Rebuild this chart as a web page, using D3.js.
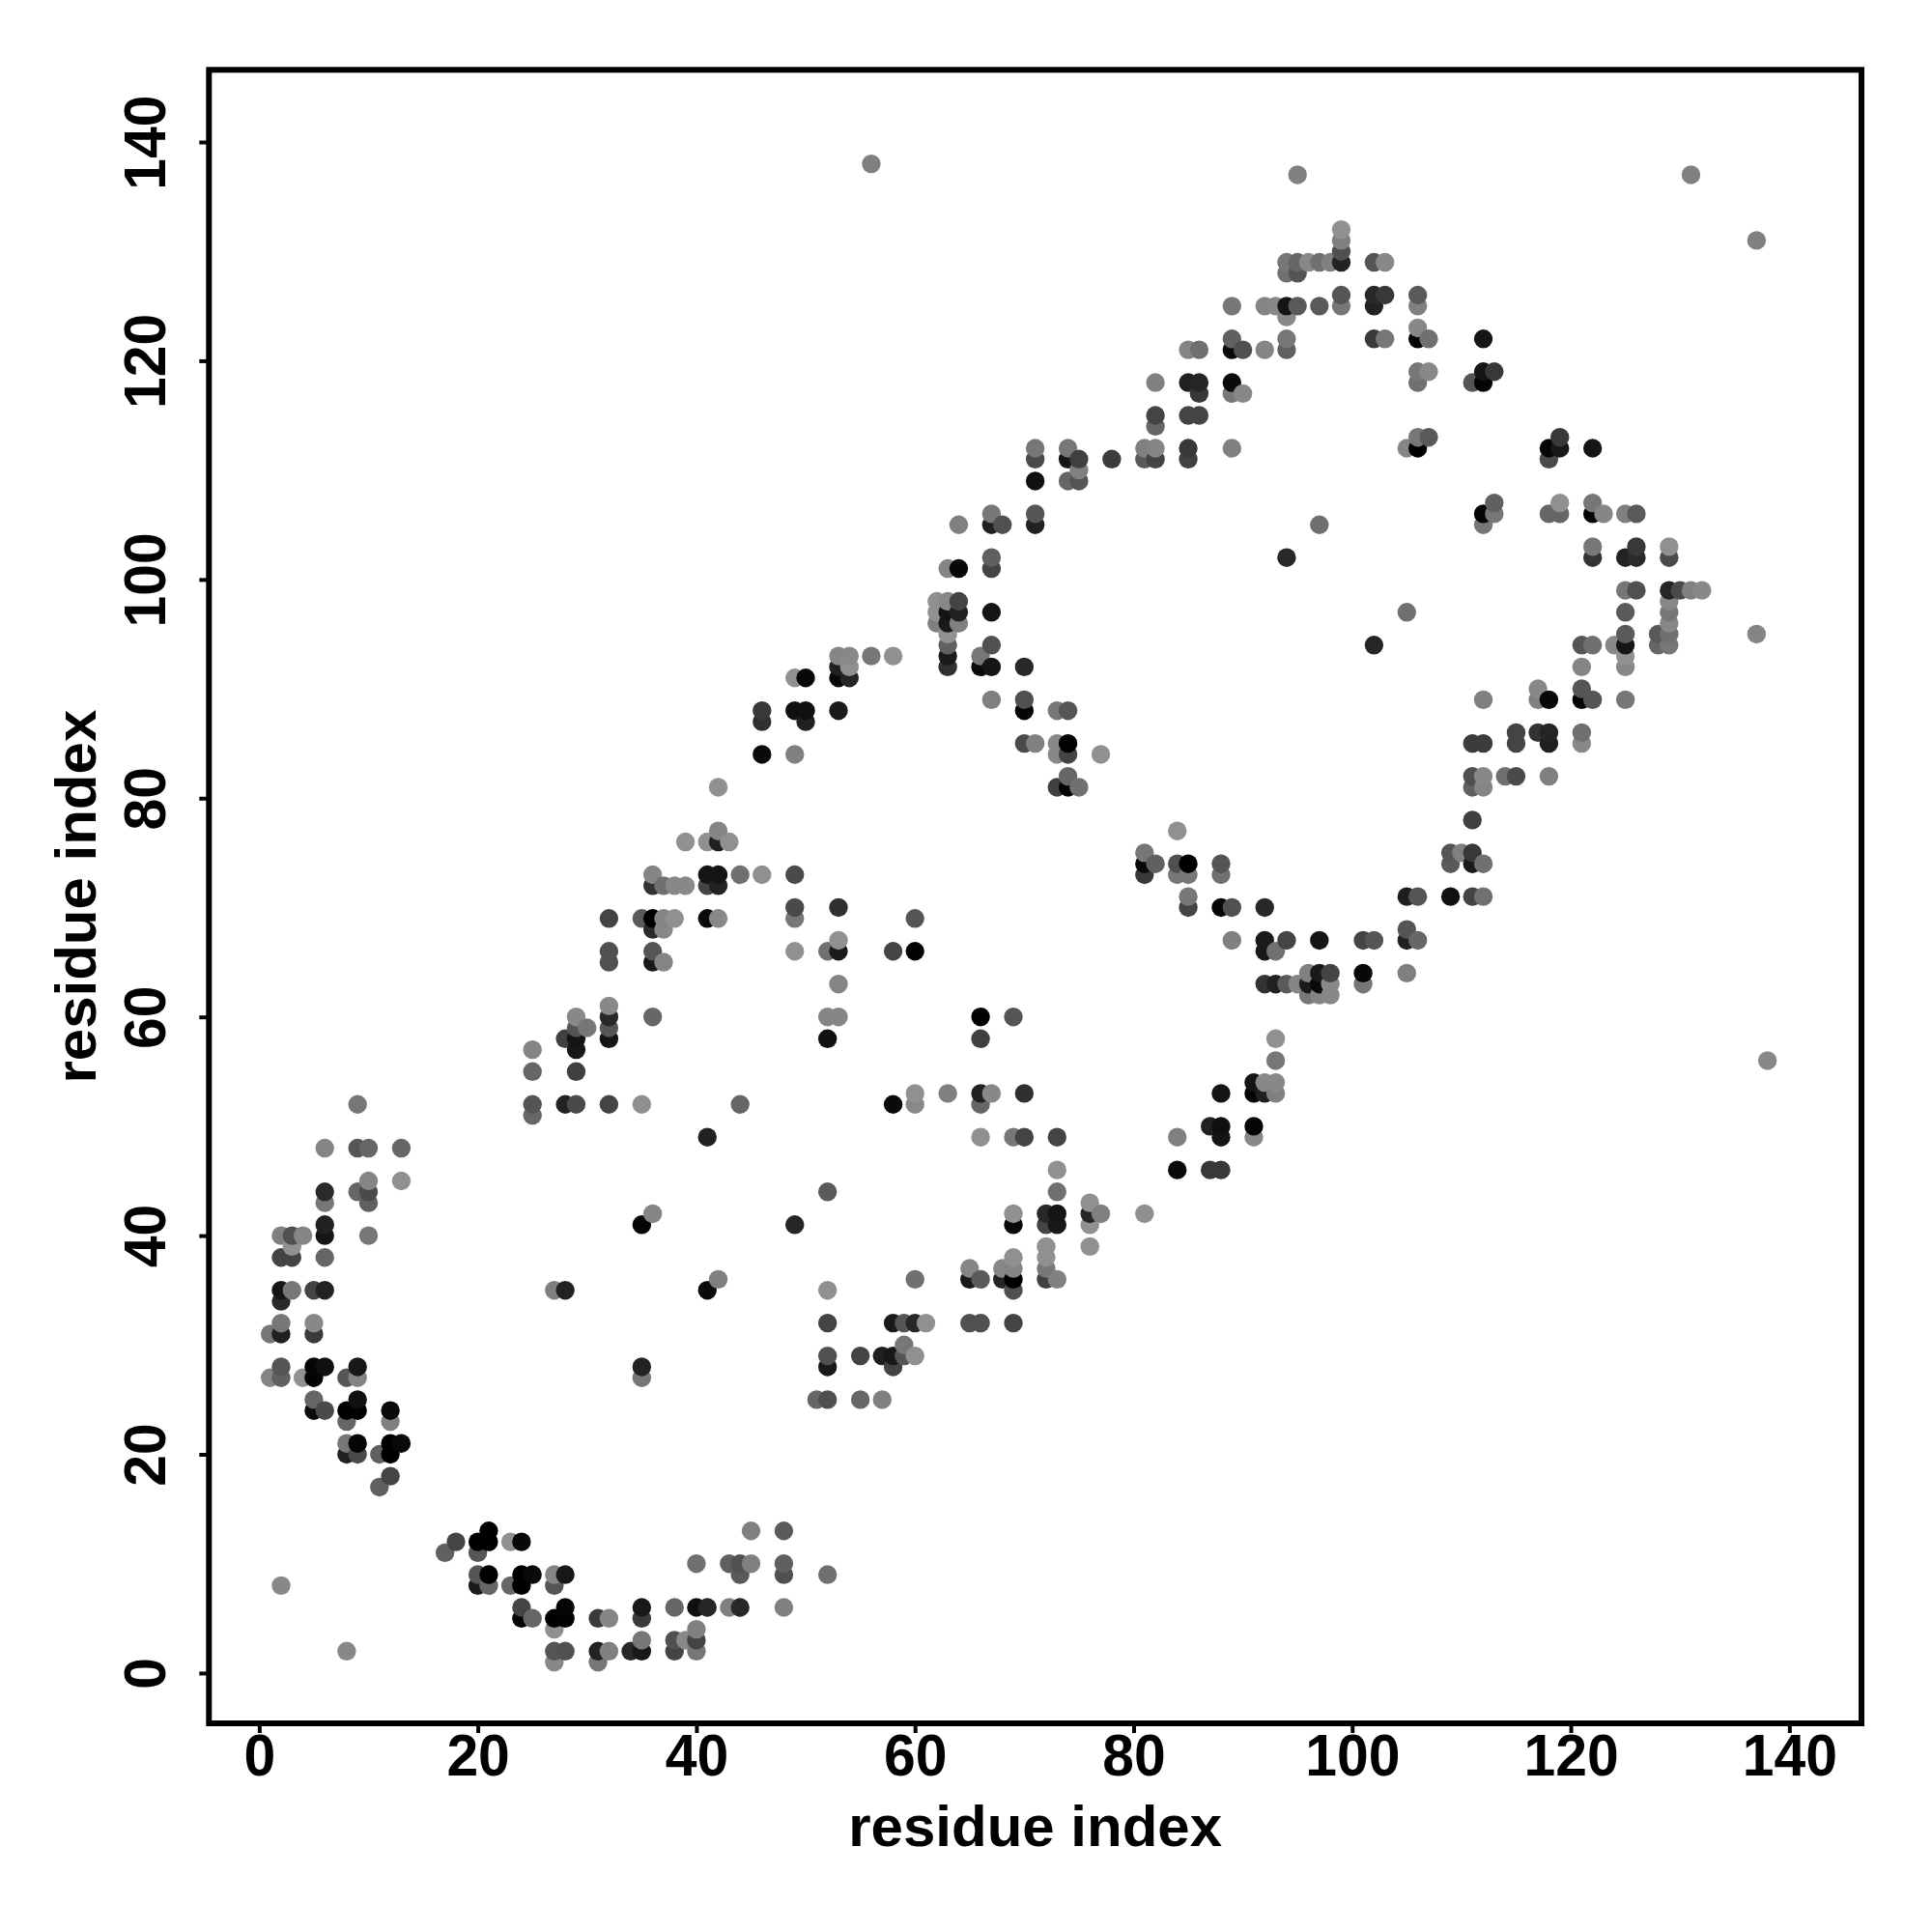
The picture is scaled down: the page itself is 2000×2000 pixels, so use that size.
<!DOCTYPE html>
<html><head><meta charset="utf-8">
<script src="https://cdn.jsdelivr.net/npm/d3@7"></script>
<style>html,body{margin:0;padding:0;background:#fff}svg{display:block}</style>
</head><body><svg id="c" width="2000" height="2000"></svg>
<script>
// Each contact: residue i, residue j, grey level (0 = black)
const tickValues = [0,20,40,60,80,100,120,140];
const axisTitle = "residue index";

const lowerLeftContacts = [
[9,52,0x77],[6,48,0x85],[9,48,0x55],[10,48,0x66],[13,48,0x66],[10,45,0x85],[13,45,0x90],[6,44,0x2a],[9,44,0x66],[10,44,0x4a],[6,43,0x77],[10,43,0x60],[6,41,0x22],[2,40,0x80],[3,40,0x50],[4,40,0x85],[6,40,0x15],[10,40,0x77],[3,39,0x90],[2,38,0x44],[3,38,0x44],[6,38,0x66],[2,35,0x15],[3,35,0x77],[5,35,0x44],[6,35,0x22],[2,34,0x2a],[2,32,0x77],[5,32,0x88],[1,31,0x77],[2,31,0x20],[5,31,0x3a],[2,28,0x55],[5,28,0x05],[6,28,0x10],[9,28,0x18],[1,27,0x85],[2,27,0x60],[4,27,0x90],[5,27,0x02],[8,27,0x55],[9,27,0x85],[5,25,0x66],[9,25,0x10],[5,24,0x0a],[6,24,0x4a],[8,24,0x00],[9,24,0x02],[12,24,0x0a],[8,23,0x66],[12,23,0x80],[8,21,0x77],[9,21,0x05],[12,21,0x00],[13,21,0x0a],[8,20,0x22],[9,20,0x4a],[11,20,0x60],[12,20,0x00],[12,18,0x44],[11,17,0x60],[2,8,0x88],[8,2,0x88]
];
const bottomArcContacts = [
[21,13,0x00],[18,12,0x44],[20,12,0x00],[21,12,0x00],[23,12,0x90],[24,12,0x08],[17,11,0x60],[20,11,0x55],[20,9,0x55],[21,9,0x02],[24,9,0x00],[25,9,0x0a],[27,9,0x85],[28,9,0x18],[20,8,0x1a],[21,8,0x66],[23,8,0x66],[24,8,0x00],[27,8,0x55],[24,6,0x44],[28,6,0x05],[24,5,0x05],[25,5,0x66],[27,5,0x00],[28,5,0x02],[31,5,0x3a],[32,5,0x85],[27,4,0x90],[27,2,0x55],[28,2,0x50],[31,2,0x22],[32,2,0x80],[27,1,0x88],[31,1,0x77],
[45,13,0x80],[48,13,0x5a],[40,10,0x70],[43,10,0x60],[44,10,0x50],[45,10,0x80],[48,10,0x60],[44,9,0x5a],[48,9,0x50],[52,9,0x70],[35,6,0x18],[38,6,0x66],[40,6,0x10],[41,6,0x25],[43,6,0x80],[44,6,0x28],[48,6,0x80],[35,5,0x3a],[40,4,0x80],[35,3,0x77],[38,3,0x50],[39,3,0x88],[40,3,0x44],[34,2,0x28],[35,2,0x18],[38,2,0x44],[40,2,0x77]
];
const middleStrandContacts = [
[46,84,0x0a],[49,84,0x80],[42,81,0x90],[42,77,0x85],[39,76,0x90],[41,76,0x90],[42,76,0x20],[43,76,0x90],[36,73,0x85],[41,73,0x15],[42,73,0x15],[44,73,0x70],[46,73,0x90],[49,73,0x4a],[36,72,0x33],[37,72,0x70],[38,72,0x88],[39,72,0x88],[41,72,0x44],[42,72,0x22],[49,70,0x4a],[53,70,0x30],[32,69,0x44],[35,69,0x5a],[36,69,0x00],[37,69,0x85],[38,69,0x90],[41,69,0x0a],[42,69,0x88],[49,69,0x77],[60,69,0x55],[36,68,0x2a],[37,68,0x88],[53,67,0x90],[32,66,0x50],[36,66,0x55],[49,66,0x90],[52,66,0x70],[53,66,0x1a],[58,66,0x44],[60,66,0x02],[32,65,0x50],[36,65,0x1a],[37,65,0x85],[53,63,0x85],[32,61,0x88],[29,60,0x88],[32,60,0x28],[36,60,0x66],[52,60,0x85],[53,60,0x85],[66,60,0x00],[69,60,0x55],[29,59,0x55],[30,59,0x77],[32,59,0x55],[28,58,0x40],[29,58,0x15],[32,58,0x15],[52,58,0x10],[66,58,0x40],[25,57,0x85],[29,57,0x18],[25,55,0x66],[29,55,0x40],[60,53,0x90],[63,53,0x80],[66,53,0x22],[67,53,0x88],[70,53,0x30],[25,52,0x55],[28,52,0x22],[29,52,0x4a],[32,52,0x44],[35,52,0x90],[44,52,0x66],[58,52,0x0a],[60,52,0x88],[66,52,0x66],[25,51,0x66],[41,49,0x22],[52,44,0x5a],[36,42,0x85],[35,41,0x05],[49,41,0x25],[42,36,0x80],[27,35,0x80],[28,35,0x22],[41,35,0x0a],[35,28,0x22],[35,27,0x77]
];
const lowerBandContacts = [
[93,58,0x90],[93,56,0x77],[91,54,0x15],[92,54,0x88],[93,54,0x88],[88,53,0x15],[91,53,0x05],[92,53,0x20],[93,53,0x80],[87,50,0x20],[88,50,0x10],[91,50,0x05],[66,49,0x90],[69,49,0x77],[70,49,0x44],[73,49,0x44],[84,49,0x80],[88,49,0x15],[91,49,0x88],[73,46,0x90],[84,46,0x0a],[87,46,0x38],[88,46,0x38],[73,44,0x70],[76,43,0x90],[69,42,0x90],[72,42,0x28],[73,42,0x15],[76,42,0x25],[77,42,0x80],[81,42,0x90],[69,41,0x0a],[72,41,0x44],[73,41,0x18],[76,41,0x90],[72,39,0x90],[76,39,0x90],[69,38,0x90],[72,38,0x90],[65,37,0x85],[68,37,0x88],[69,37,0x85],[72,37,0x77],[60,36,0x70],[65,36,0x1a],[66,36,0x5a],[68,36,0x25],[69,36,0x00],[72,36,0x40],[73,36,0x80],[52,35,0x90],[69,35,0x50],[52,32,0x44],[58,32,0x1a],[59,32,0x55],[60,32,0x28],[61,32,0x90],[65,32,0x50],[66,32,0x50],[69,32,0x44],[59,30,0x77],[52,29,0x50],[55,29,0x44],[57,29,0x1e],[58,29,0x18],[59,29,0x55],[60,29,0x90],[52,28,0x1a],[58,28,0x44],[51,25,0x66],[52,25,0x50],[55,25,0x66],[57,25,0x80]
];
const upperBandContacts = [
[71,112,0x77],[74,112,0x77],[71,111,0x4a],[74,111,0x15],[75,111,0x40],[78,111,0x3c],[75,110,0x80],[71,109,0x10],[74,109,0x66],[75,109,0x55],[67,106,0x77],[71,106,0x55],[64,105,0x80],[67,105,0x20],[68,105,0x50],[71,105,0x20],[67,102,0x60],[63,101,0x85],[64,101,0x08],[67,101,0x44],[62,98,0x90],[63,98,0x88],[64,98,0x44],[62,97,0x90],[63,97,0x15],[64,97,0x22],[67,97,0x15],[62,96,0x80],[63,96,0x1a],[64,96,0x80],[63,95,0x90],[63,94,0x60],[67,94,0x50],[53,93,0x85],[54,93,0x88],[56,93,0x77],[58,93,0x90],[63,93,0x1a],[66,93,0x77],[53,92,0x20],[54,92,0x90],[63,92,0x30],[66,92,0x0a],[67,92,0x15],[70,92,0x28],[49,91,0x90],[50,91,0x08],[53,91,0x08],[54,91,0x25],[67,89,0x80],[70,89,0x50],[46,88,0x38],[49,88,0x10],[50,88,0x10],[53,88,0x1a],[70,88,0x05],[73,88,0x77],[74,88,0x55],[46,87,0x30],[50,87,0x20],[70,85,0x4a],[71,85,0x80],[73,85,0x88],[74,85,0x02],[73,84,0x88],[74,84,0x44],[77,84,0x90],[74,82,0x66],[73,81,0x40],[74,81,0x02],[75,81,0x70]
];
const topArcContacts = [
[99,132,0x90],[99,131,0x80],[99,130,0x50],[94,129,0x77],[95,129,0x66],[96,129,0x88],[97,129,0x70],[98,129,0x80],[99,129,0x22],[102,129,0x55],[103,129,0x88],[94,128,0x70],[95,128,0x55],[99,126,0x55],[102,126,0x28],[103,126,0x38],[106,126,0x5a],[89,125,0x77],[92,125,0x85],[93,125,0x88],[94,125,0x15],[95,125,0x5a],[97,125,0x5a],[99,125,0x77],[102,125,0x22],[106,125,0x80],[94,124,0x88],[106,123,0x88],[89,122,0x60],[94,122,0x77],[102,122,0x3a],[103,122,0x77],[106,122,0x05],[107,122,0x70],[112,122,0x15],[85,121,0x85],[86,121,0x70],[89,121,0x0a],[90,121,0x50],[92,121,0x85],[94,121,0x60],[106,119,0x77],[107,119,0x88],[112,119,0x15],[113,119,0x38],[82,118,0x80],[85,118,0x20],[86,118,0x25],[89,118,0x0a],[106,118,0x70],[111,118,0x55],[112,118,0x05],[86,117,0x38],[89,117,0x77],[90,117,0x88],[82,115,0x44],[85,115,0x44],[86,115,0x44],[82,114,0x66],[106,113,0x77],[107,113,0x5a],[81,112,0x80],[82,112,0x85],[85,112,0x38],[89,112,0x80],[105,112,0x85],[106,112,0x00],[81,111,0x5a],[82,111,0x44],[85,111,0x40],[97,105,0x70],[94,102,0x28],[105,97,0x70],[102,94,0x25]
];
const rightBandContacts = [
[119,113,0x38],[118,112,0x05],[119,112,0x18],[122,112,0x15],[118,111,0x4a],[113,107,0x60],[119,107,0x90],[122,107,0x77],[112,106,0x05],[113,106,0x77],[118,106,0x66],[119,106,0x66],[122,106,0x05],[123,106,0x85],[125,106,0x80],[126,106,0x5a],[112,105,0x77],[122,103,0x77],[126,103,0x38],[129,103,0x90],[122,102,0x33],[125,102,0x22],[126,102,0x2a],[129,102,0x4a],[125,99,0x77],[126,99,0x50],[129,99,0x25],[130,99,0x4a],[131,99,0x80],[132,99,0x88],[129,98,0x88],[125,97,0x5a],[129,97,0x77],[129,96,0x88],[125,95,0x5a],[128,95,0x5a],[129,95,0x70],[121,94,0x55],[122,94,0x70],[124,94,0x88],[125,94,0x15],[128,94,0x66],[129,94,0x77],[125,93,0x90],[121,92,0x85],[125,92,0x88],[117,90,0x88],[121,90,0x55],[112,89,0x80],[117,89,0x80],[118,89,0x08],[121,89,0x05],[122,89,0x55],[125,89,0x77],[115,86,0x44],[117,86,0x33],[118,86,0x25],[121,86,0x70],[111,85,0x3c],[112,85,0x3c],[115,85,0x44],[118,85,0x20],[121,85,0x88],[111,82,0x50],[112,82,0x88],[114,82,0x70],[115,82,0x4a],[118,82,0x80],[111,81,0x60],[112,81,0x85],[111,78,0x40]
];
const centerBandContacts = [
[84,77,0x90],[81,75,0x77],[109,75,0x55],[110,75,0x80],[111,75,0x38],[81,74,0x08],[82,74,0x60],[84,74,0x50],[85,74,0x00],[88,74,0x55],[109,74,0x5a],[111,74,0x1a],[112,74,0x70],[81,73,0x38],[84,73,0x77],[85,73,0x77],[88,73,0x70],[85,71,0x77],[105,71,0x1e],[106,71,0x55],[109,71,0x10],[111,71,0x44],[112,71,0x70],[85,70,0x44],[88,70,0x05],[89,70,0x50],[92,70,0x28],[105,68,0x55],[89,67,0x80],[92,67,0x1a],[94,67,0x44],[97,67,0x15],[101,67,0x44],[102,67,0x55],[105,67,0x20],[106,67,0x66],[92,66,0x18],[93,66,0x70],[96,64,0x80],[97,64,0x1a],[98,64,0x44],[101,64,0x08],[105,64,0x80],[92,63,0x33],[93,63,0x20],[94,63,0x5a],[95,63,0x85],[96,63,0x1a],[97,63,0x0a],[98,63,0x88],[101,63,0x77],[96,62,0x77],[97,62,0x85],[98,62,0x88]
];
const farContacts = [
[56,138,0x80],[95,137,0x80],[131,137,0x80],[137,131,0x80],[137,95,0x85],[138,56,0x88]
];

const allContacts = [...lowerLeftContacts,...bottomArcContacts,...middleStrandContacts,...lowerBandContacts,...upperBandContacts,...topArcContacts,...rightBandContacts,...centerBandContacts,...farContacts]
  .slice().sort((a,b)=>d3.ascending(a[0],b[0])||d3.ascending(a[1],b[1]));

const L=216.3,R=1927,T=72.3,B=1784;
const domain=[-4.6,146.6];
const x=d3.scaleLinear().domain(domain).range([L,R]);
const y=d3.scaleLinear().domain(domain).range([B,T]);
const FONT='"Liberation Sans",Arial,sans-serif';
const svg=d3.select("#c");
svg.append("rect").attr("width",2000).attr("height",2000).attr("fill","#fff");

svg.append("g").selectAll("circle").data(allContacts).join("circle")
  .attr("cx",d=>x(d[0])).attr("cy",d=>y(d[1])).attr("r",9.7)
  .attr("fill",d=>d3.rgb(d[2],d[2],d[2]).formatHex());

const gx=svg.append("g").attr("transform",`translate(0,${B})`)
  .call(d3.axisBottom(x).tickValues(tickValues).tickSize(10).tickPadding(0));
const gy=svg.append("g").attr("transform",`translate(${L},0)`)
  .call(d3.axisLeft(y).tickValues(tickValues).tickSize(10).tickPadding(0));
[gx,gy].forEach(g=>{
  g.select(".domain").remove();
  g.selectAll(".tick line").attr("stroke","#000").attr("stroke-width",4);
  g.selectAll(".tick text").attr("font-family",FONT).attr("font-weight","bold").attr("font-size",62).attr("fill","#000");
});
gx.selectAll(".tick line").attr("y1",0).attr("y2",10);
gx.selectAll(".tick text").attr("dy",null).attr("y",54).attr("text-anchor","middle")
  .attr("transform","scale(0.95,1)");
gy.selectAll(".tick line").attr("x2",-10);
gy.selectAll(".tick text").attr("dy",null).attr("x",null).attr("text-anchor","middle")
  .attr("transform","translate(-45.5,0) rotate(-90) scale(0.95,1)");

svg.append("rect").attr("x",L).attr("y",T).attr("width",R-L).attr("height",B-T)
  .attr("fill","none").attr("stroke","#000").attr("stroke-width",6);

svg.append("text").text(axisTitle).attr("x",(L+R)/2).attr("y",1911).attr("text-anchor","middle")
  .attr("font-family",FONT).attr("font-weight","bold").attr("font-size",60);
svg.append("text").text(axisTitle).attr("transform",`translate(99,${(T+B)/2}) rotate(-90)`).attr("text-anchor","middle")
  .attr("font-family",FONT).attr("font-weight","bold").attr("font-size",60);
</script></body></html>
